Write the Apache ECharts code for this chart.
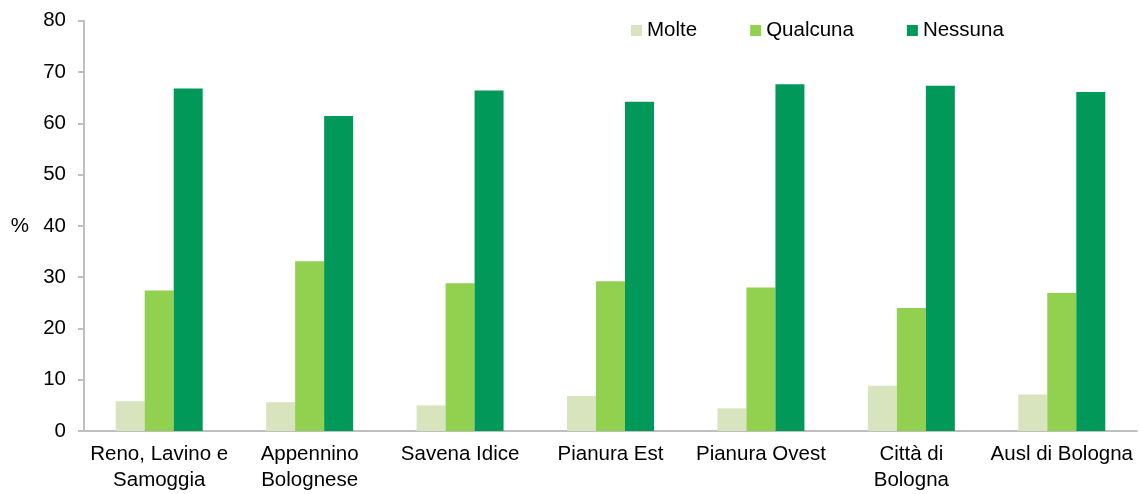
<!DOCTYPE html>
<html>
<head>
<meta charset="utf-8">
<script src="https://cdn.jsdelivr.net/npm/echarts@6/dist/echarts.min.js"></script>
<style>
html,body{margin:0;padding:0;background:#fff;}
#chart{width:1140px;height:494px;}
</style>
</head>
<body>
<div id="chart"></div>
<script>
const categories = ["Reno, Lavino e\nSamoggia", "Appennino\nBolognese", "Savena Idice", "Pianura Est", "Pianura Ovest", "Città di\nBologna", "Ausl di Bologna"];
const molte = [5.8, 5.6, 5.0, 6.8, 4.4, 8.8, 7.1];
const qualcuna = [27.4, 33.1, 28.8, 29.2, 28.0, 24.0, 26.9];
const nessuna = [66.8, 61.4, 66.4, 64.2, 67.6, 67.3, 66.1];
const yTicks = [0, 10, 20, 30, 40, 50, 60, 70, 80];

const font = "'Liberation Sans', Arial, sans-serif";
const fs = 20.5;
const chart = echarts.init(document.getElementById('chart'));
chart.setOption({
  animation: false,
  textStyle: { fontFamily: font },
  legend: {
    left: 626, top: 15,
    icon: 'rect', itemWidth: 11, itemHeight: 11, itemGap: 53,
    textStyle: { fontSize: fs, color: '#000', fontFamily: font },
    data: ['Molte', 'Qualcuna', 'Nessuna']
  },
  grid: { left: 84, right: 3, top: 20.7, bottom: 60.7, containLabel: false },
  xAxis: {
    type: 'category',
    data: categories,
    axisLine: { lineStyle: { color: '#bfbfbf', width: 2 } },
    axisTick: { show: false },
    axisLabel: { color: '#000', fontSize: fs, fontFamily: font, margin: 10, lineHeight: 26.5, interval: 0 }
  },
  yAxis: {
    type: 'value',
    min: yTicks[0], max: yTicks[yTicks.length - 1], interval: 10,
    name: '%', nameLocation: 'middle', nameRotate: 0, nameGap: 55,
    nameTextStyle: { color: '#000', fontSize: fs, fontFamily: font },
    axisLine: { show: true, lineStyle: { color: '#bfbfbf', width: 2 } },
    axisTick: { show: true, length: 6, lineStyle: { color: '#bfbfbf', width: 2 } },
    splitLine: { show: false },
    axisLabel: { color: '#000', fontSize: fs, fontFamily: font, margin: 18 }
  },
  series: [
    { name: 'Molte', type: 'bar', data: molte, barWidth: 29, barGap: '0%', itemStyle: { color: '#d7e4bd' } },
    { name: 'Qualcuna', type: 'bar', data: qualcuna, barWidth: 29, barGap: '0%', itemStyle: { color: '#92d050' } },
    { name: 'Nessuna', type: 'bar', data: nessuna, barWidth: 29, barGap: '0%', itemStyle: { color: '#00995a' } }
  ]
});
</script>
</body>
</html>
